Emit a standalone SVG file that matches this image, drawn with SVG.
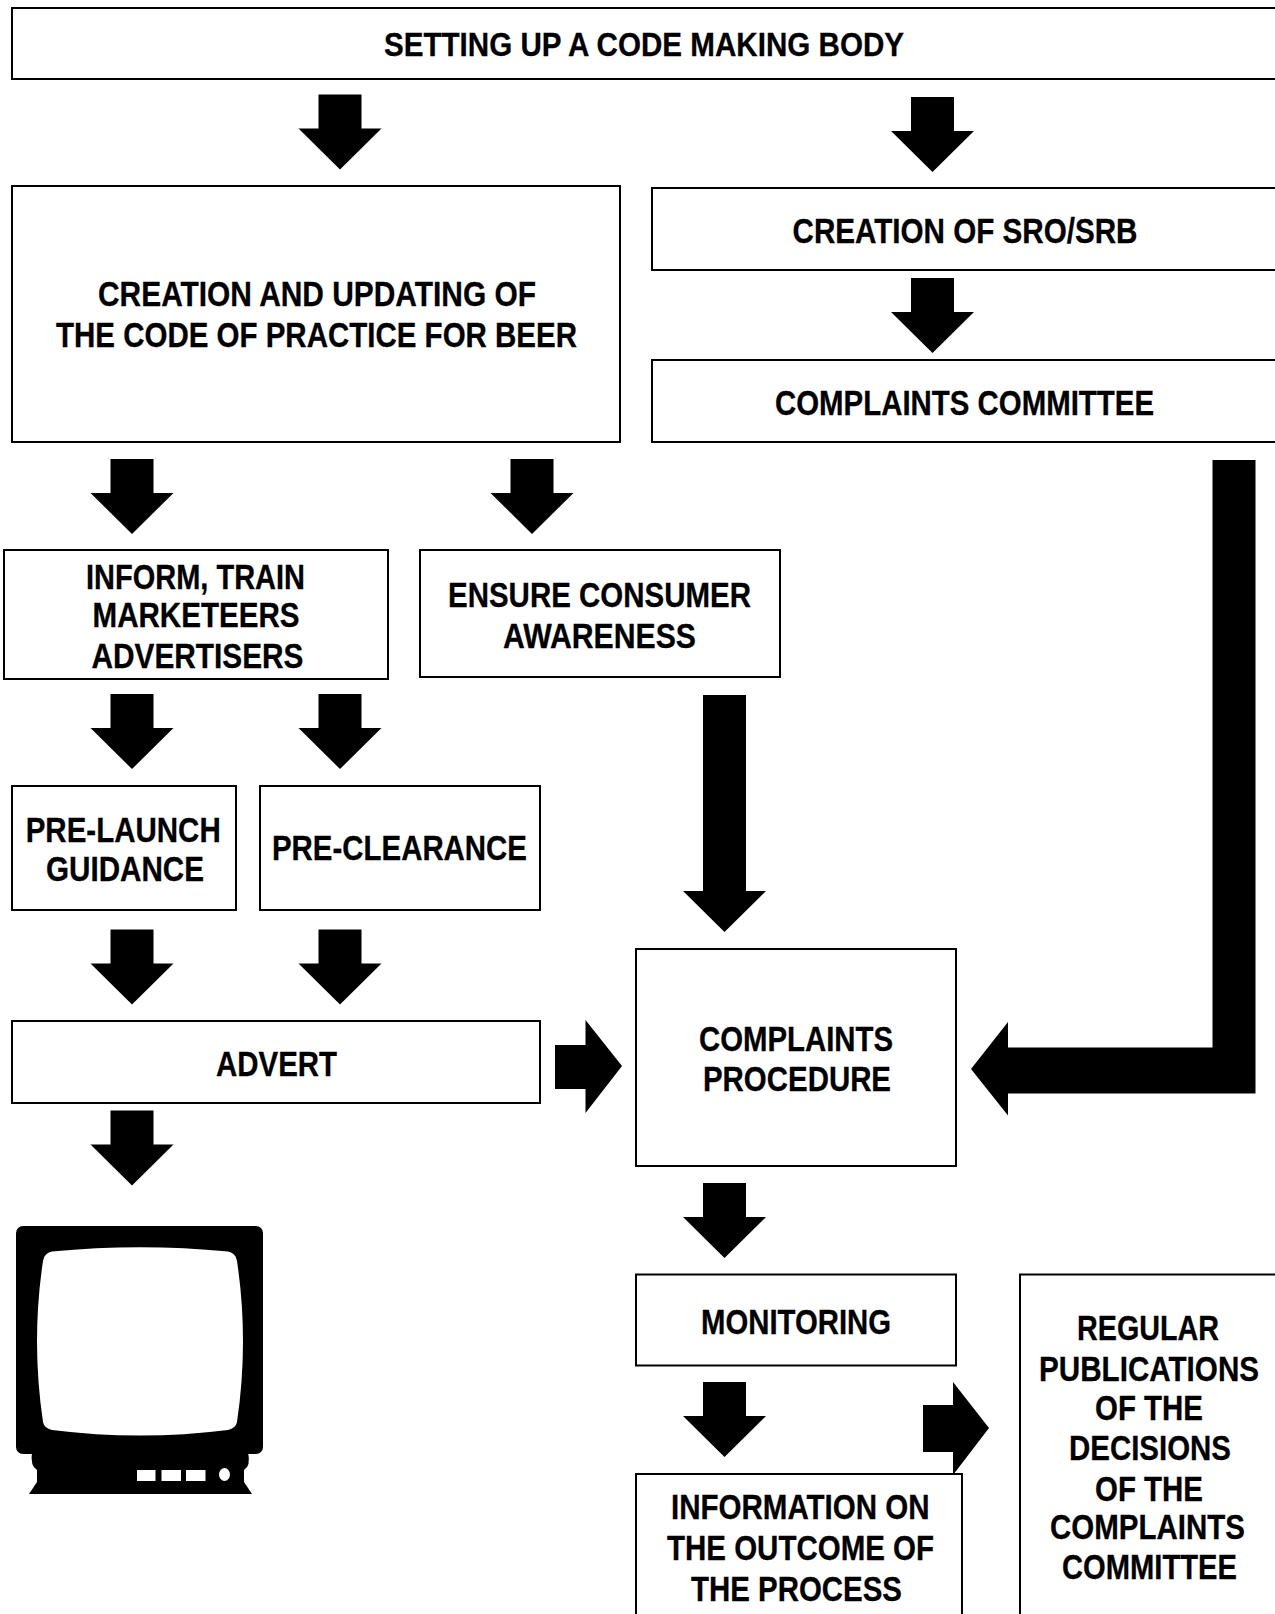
<svg xmlns="http://www.w3.org/2000/svg" width="1275" height="1614" viewBox="0 0 1275 1614">
<style>
.b{fill:#fff;stroke:#000;stroke-width:2}
.a{fill:#000}
text{font-family:"Liberation Sans",Arial,sans-serif;font-weight:700;font-size:35px;fill:#000;stroke:#000;stroke-width:.3}
</style>
<defs>
<path id="d" d="M-21.500 0H21.500V34H41.500L0 75L-41.500 34H-21.500Z"/>
</defs>
<rect width="1275" height="1614" fill="#fff"/>
<g id="connectors" class="a">
<use href="#d" x="340" y="94.500"/>
<use href="#d" x="932.500" y="97"/>
<use href="#d" x="932.500" y="278"/>
<use href="#d" x="132" y="459"/>
<use href="#d" x="532" y="459"/>
<use href="#d" x="132" y="694"/>
<use href="#d" x="340" y="694"/>
<use href="#d" x="132" y="929.500"/>
<use href="#d" x="340" y="929.500"/>
<use href="#d" x="132" y="1110.500"/>
<use href="#d" x="724.500" y="1183"/>
<use href="#d" x="724.500" y="1382"/>
<path d="M703 695H746V891H766L724.500 932L683 891H703Z"/>
<path d="M555 1045H585.500V1020L622 1066L585.500 1113V1089H555Z"/>
<path d="M923 1405H953V1382L989 1428L953 1475V1452H923Z"/>
<path d="M1212.500 460H1255.500V1093.500H1008V1115.500L971 1069L1008 1022V1047.500H1212.500Z"/>
</g>
<g id="n1"><rect class="b" x="12" y="8" width="1270" height="71"/><text x="384" y="56" style="font-size:34px" textLength="520" lengthAdjust="spacingAndGlyphs">SETTING UP A CODE MAKING BODY</text></g>
<g id="n2"><rect class="b" x="12" y="186" width="608" height="256"/><text x="98" y="306" textLength="438" lengthAdjust="spacingAndGlyphs">CREATION AND UPDATING OF</text><text x="56" y="347" textLength="521" lengthAdjust="spacingAndGlyphs">THE CODE OF PRACTICE FOR BEER</text></g>
<g id="n3"><rect class="b" x="652" y="188" width="630" height="82"/><text x="792.500" y="242.500" textLength="345" lengthAdjust="spacingAndGlyphs">CREATION OF SRO/SRB</text></g>
<g id="n4"><rect class="b" x="652" y="360" width="630" height="82"/><text x="775" y="415" textLength="379" lengthAdjust="spacingAndGlyphs">COMPLAINTS COMMITTEE</text></g>
<g id="n5"><rect class="b" x="4" y="550" width="384" height="129"/><text x="86" y="589" textLength="219" lengthAdjust="spacingAndGlyphs">INFORM, TRAIN</text><text x="92.500" y="627" textLength="207" lengthAdjust="spacingAndGlyphs">MARKETEERS</text><text x="91.500" y="668" textLength="212" lengthAdjust="spacingAndGlyphs">ADVERTISERS</text></g>
<g id="n6"><rect class="b" x="420" y="550" width="360" height="127"/><text x="448" y="607" textLength="303" lengthAdjust="spacingAndGlyphs">ENSURE CONSUMER</text><text x="503" y="648" textLength="193" lengthAdjust="spacingAndGlyphs">AWARENESS</text></g>
<g id="n7"><rect class="b" x="12" y="786" width="224" height="124"/><text x="25.700" y="842" textLength="195" lengthAdjust="spacingAndGlyphs">PRE-LAUNCH</text><text x="46" y="881" textLength="158" lengthAdjust="spacingAndGlyphs">GUIDANCE</text></g>
<g id="n8"><rect class="b" x="260" y="786" width="280" height="124"/><text x="272" y="860" textLength="255" lengthAdjust="spacingAndGlyphs">PRE-CLEARANCE</text></g>
<g id="n9"><rect class="b" x="12" y="1021" width="528" height="82"/><text x="216" y="1075.500" textLength="121" lengthAdjust="spacingAndGlyphs">ADVERT</text></g>
<g id="n10"><rect class="b" x="636" y="949" width="320" height="217"/><text x="699" y="1050.500" textLength="194" lengthAdjust="spacingAndGlyphs">COMPLAINTS</text><text x="703" y="1090.500" textLength="188" lengthAdjust="spacingAndGlyphs">PROCEDURE</text></g>
<g id="n11"><rect class="b" x="636" y="1274.500" width="320" height="91"/><text x="701" y="1333.500" textLength="190" lengthAdjust="spacingAndGlyphs">MONITORING</text></g>
<g id="n12"><rect class="b" x="636" y="1474" width="326" height="160"/><text x="671" y="1519" textLength="258.500" lengthAdjust="spacingAndGlyphs">INFORMATION ON</text><text x="667" y="1560" textLength="267" lengthAdjust="spacingAndGlyphs">THE OUTCOME OF</text><text x="691" y="1601" textLength="211" lengthAdjust="spacingAndGlyphs">THE PROCESS</text></g>
<g id="n13"><rect class="b" x="1020" y="1274.500" width="270" height="360"/><text x="1077" y="1339.500" textLength="142" lengthAdjust="spacingAndGlyphs">REGULAR</text><text transform="translate(1039 1381) scale(.84 1)" textLength="262" lengthAdjust="spacingAndGlyphs">PUBLICATIONS</text><text x="1095" y="1420" textLength="108" lengthAdjust="spacingAndGlyphs">OF THE</text><text x="1069" y="1460" textLength="162" lengthAdjust="spacingAndGlyphs">DECISIONS</text><text x="1095" y="1501" textLength="108" lengthAdjust="spacingAndGlyphs">OF THE</text><text transform="translate(1050 1538.500) scale(.84 1)" textLength="232" lengthAdjust="spacingAndGlyphs">COMPLAINTS</text><text x="1062" y="1579" textLength="175" lengthAdjust="spacingAndGlyphs">COMMITTEE</text></g>
<g id="tv">
<rect x="16" y="1226" width="247" height="228" rx="7" fill="#000"/>
<path fill="#000" d="M32 1452Q30 1466 37 1470V1482L29 1494H252L244 1482V1470Q251 1466 248 1452Z"/>
<path fill="#fff" d="M52 1251.500Q140 1243 228 1251.500Q236 1253 237 1261Q249 1341 237 1422Q236 1428 228 1430Q140 1441 52 1430Q44 1428 43 1422Q31 1341 43 1261Q44 1253 52 1251.500Z"/>
<rect x="137" y="1470" width="18.500" height="11" fill="#fff"/>
<rect x="161.500" y="1470" width="19.500" height="11" fill="#fff"/>
<rect x="186" y="1470" width="19.500" height="11" fill="#fff"/>
<ellipse cx="224.500" cy="1474.500" rx="5.500" ry="6.500" fill="#fff"/>
</g>
</svg>
